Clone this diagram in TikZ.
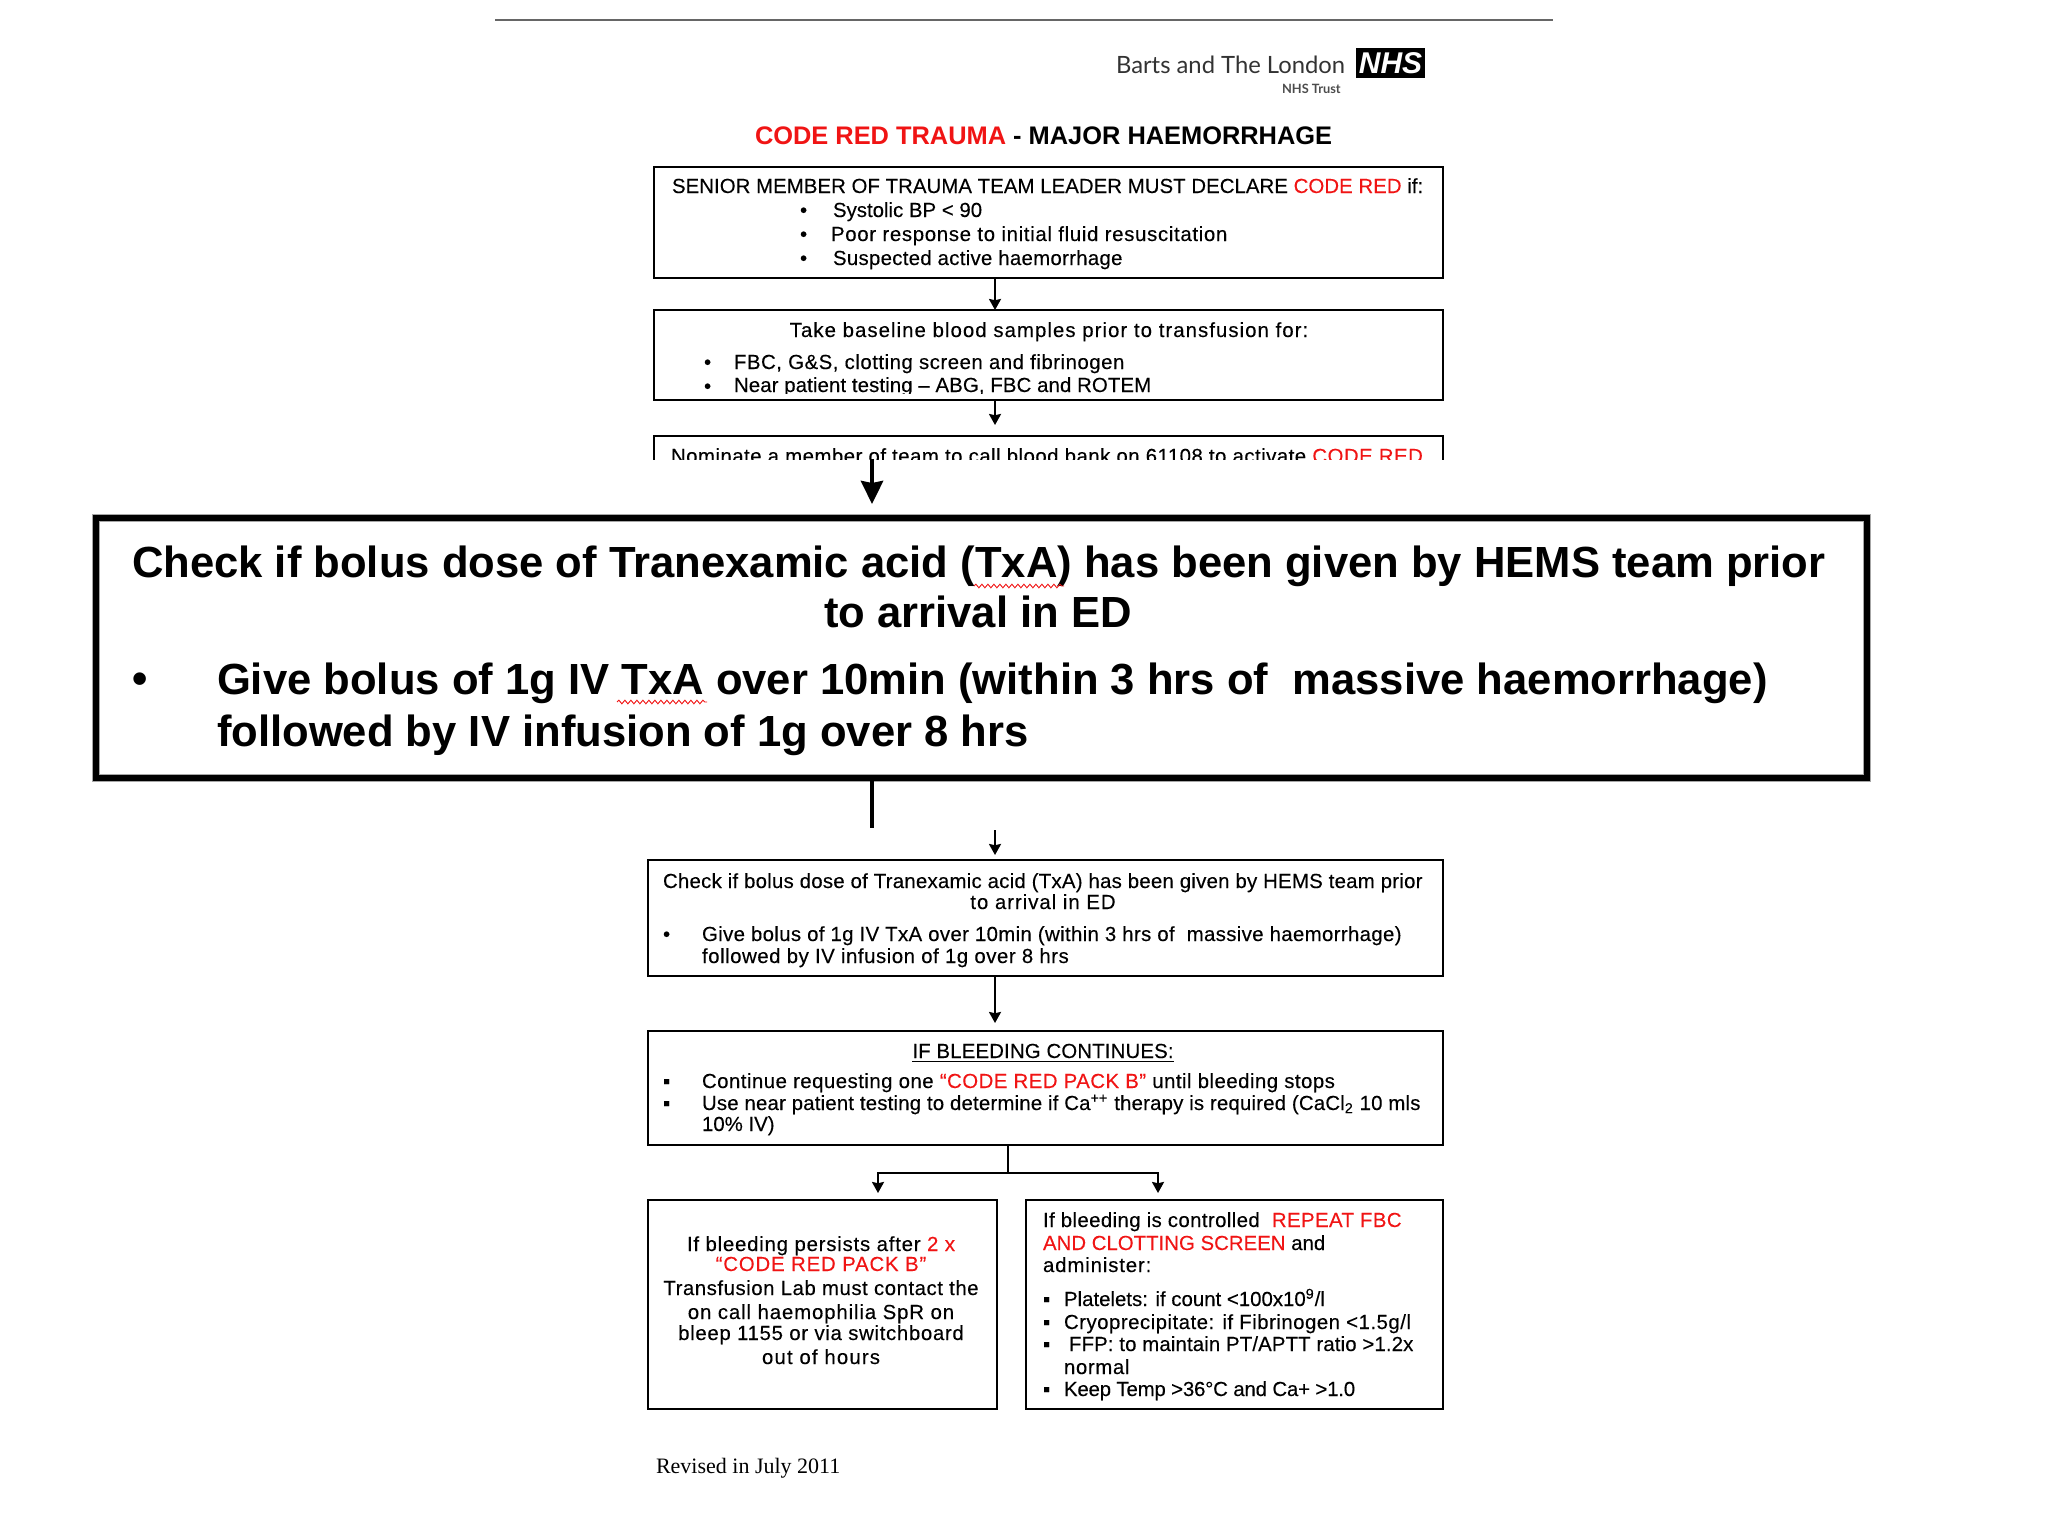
\documentclass[tikz,border=0pt]{standalone}
\usepackage{fontspec}
\setmainfont{Liberation Sans}
\newfontfamily\revfont{Liberation Serif}
\newfontfamily\logofont{Lato}
\usetikzlibrary{arrows.meta,decorations.pathmorphing}
\definecolor{codered}{RGB}{240,20,20}
\newcommand{\cred}[1]{\textcolor{codered}{#1}}
\begin{document}
\begin{tikzpicture}[x=0.5pt,y=-0.5pt,>={Stealth[length=5.5pt,width=6pt,inset=0.6pt]},text=black]
\tikzset{sp/.style={font=\fontsize{10.2}{12}\selectfont\addfontfeature{LetterSpace=#1,FakeBold=0.2}},sp/.default=0,
  lab/.style={anchor=base west,inner sep=0pt,outer sep=0pt},mid/.style={anchor=base,inner sep=0pt,outer sep=0pt},
  panel/.style={draw=black,line width=1pt,anchor=north west,inner sep=0pt,outer sep=0pt},
  bigtxt/.style={font=\fontsize{21.8}{24}\selectfont\bfseries},arr/.style={->,line width=1pt,draw=black},
  squig/.style={draw=codered,line width=0.45pt,decorate,decoration={snake,amplitude=0.9pt,segment length=3pt}}}
\useasboundingbox (0,0) rectangle (2048,1536);
% header
\draw[draw=black!60,line width=1pt] (495,20) coordinate (topa) -- (1553,20) coordinate (topb);
\node[lab,font=\logofont\fontsize{11.9}{14}\selectfont,text=black!80] (barts) at (1116,74) {Barts and The London};
\node[panel,fill=black,minimum width=33.5pt,minimum height=14pt,text=white,font=\fontsize{15}{15}\selectfont\bfseries\itshape] (nhs) at (1357,49) {NHS};
\node[lab,font=\logofont\fontsize{6.4}{7}\selectfont\bfseries,text=black!70] (trust) at (1282,94) {NHS Trust};
\node[lab,font=\fontsize{12.7}{15}\selectfont\bfseries] (title) at (755,144) {\cred{CODE RED TRAUMA} - MAJOR HAEMORRHAGE};
% senior member box
\node[panel,minimum width=394.5pt,minimum height=55.5pt] (senior) at (654,167) {};
\node[lab,sp=0.2] (s0) at (672,193) {SENIOR MEMBER OF TRAUMA TEAM LEADER MUST DECLARE \cred{CODE RED} if:};
\foreach \n/\yy/\xx/\ls/\tx in {s1/217/833/0/Systolic BP < 90,s2/241/831/3.3/Poor response to initial fluid resuscitation,s3/265/833/1.4/Suspected active haemorrhage}{
  \node[lab,sp] at (800,\yy) {•};
  \node[lab,sp=\ls] (\n) at (\xx,\yy) {\tx};}
% baseline samples box
\node[panel,minimum width=394.5pt,minimum height=45pt] (samples) at (654,310) {};
\node[mid,sp=5.1] (b0) at (1049,337) {Take baseline blood samples prior to transfusion for:};
\node[lab,sp] at (704,369) {•};
\node[lab,sp=2.5] (b1) at (734,369) {FBC, G\&S, clotting screen and fibrinogen};
\node[lab,sp] at (704,393) {•};
\begin{scope}
\clip (600,365) rectangle (1500,393.5);
\node[lab,sp=0.5] (b2) at (734,392) {Near patient testing – ABG, FBC and ROTEM};
\end{scope}
% nominate box, cut off by the enlarged panel
\begin{scope}
\clip (600,420) rectangle (1500,459);
\node[panel,minimum width=394.5pt,minimum height=40pt] (nominate) at (654,436) {};
\node[lab,sp=2.3] (n0) at (671,463) {Nominate a member of team to call blood bank on 61108 to activate \cred{CODE RED}};
\end{scope}
% enlarged panel
\node[panel,line width=2.6pt,preaction={draw=black!35,line width=4pt},minimum width=885.5pt,minimum height=130pt] (big) at (96,518) {};
\node[lab,bigtxt] (g0) at (132,577) {Check if bolus dose of Tranexamic acid (TxA) has been given by HEMS team prior};
\node[mid,bigtxt] (g1) at (978,627) {to arrival in ED};
\node[lab,bigtxt] (g2) at (132,693) {•};
\node[lab,bigtxt] (g3) at (217,694) {Give bolus of 1g IV TxA over 10min (within 3 hrs of \ massive haemorrhage)};
\node[lab,bigtxt] (g4) at (217,746) {followed by IV infusion of 1g over 8 hrs};
\draw[squig] (974,586) coordinate (sqa) -- (1064,586) coordinate (sqb);
\draw[squig] (617,702) coordinate (sqc) -- (707,702) coordinate (sqd);
% txa box
\node[panel,minimum width=397.5pt,minimum height=58pt] (txa) at (648,860) {};
\node[lab,sp=1.2] (t0) at (663,888) {Check if bolus dose of Tranexamic acid (TxA) has been given by HEMS team prior};
\node[mid,sp=4.7] (t1) at (1043,909) {to arrival in ED};
\node[lab,sp] at (663,941) {•};
\node[lab,sp=1.7] (t2) at (702,941) {Give bolus of 1g IV TxA over 10min (within 3 hrs of \ massive haemorrhage)};
\node[lab,sp=2.6] (t3) at (702,963) {followed by IV infusion of 1g over 8 hrs};
% continues box
\node[panel,minimum width=397.5pt,minimum height=57pt] (cont) at (648,1031) {};
\node[mid,sp=0.7] (c0) at (1043,1058) {\underline{IF BLEEDING CONTINUES:}};
\node[lab,sp] at (663,1088) {▪};
\node[lab,sp=2.3] (c1) at (702,1088) {Continue requesting one \cred{“CODE RED PACK B”} until bleeding stops};
\node[lab,sp] at (663,1110) {▪};
\node[lab,sp=0.9] (c2) at (702,1110) {Use near patient testing to determine if Ca\textsuperscript{++} therapy is required (CaCl\textsubscript{2} 10 mls};
\node[lab,sp] (c3) at (702,1131) {10\% IV)};
% outcome boxes
\node[panel,minimum width=174.5pt,minimum height=104.5pt] (persist) at (648,1200) {};
\foreach \n/\yy/\ls/\tx in {p0/1251/3.8/If bleeding persists after \cred{2 x},p1/1271/3.9/\cred{“CODE RED PACK B”},p2/1295/2.6/Transfusion Lab must contact the,p3/1319/4.2/on call haemophilia SpR on,p4/1340/3.3/bleep 1155 or via switchboard,p5/1364/5.6/out of hours}
  \node[mid,sp=\ls] (\n) at (821,\yy) {\tx};
\node[panel,minimum width=208.5pt,minimum height=104.5pt] (control) at (1026,1200) {};
\node[lab,sp=1.9] (r0) at (1043,1227) {If bleeding is controlled \ \cred{REPEAT FBC}};
\node[lab,sp] (r1) at (1043,1250) {\cred{AND CLOTTING SCREEN} and};
\node[lab,sp=4.2] (r2) at (1043,1272) {administer:};
\foreach \n/\yy/\xx/\ls/\tx in {r3/1306/1064/0/{Platelets: if count <100x10\textsuperscript{9}/l},r4/1329/1064/2.4/{Cryoprecipitate: if Fibrinogen <1.5g/l},r5/1351/1069/0.6/{FFP: to maintain PT/APTT ratio >1.2x},r7/1396/1064/-1/{Keep Temp >36°C and Ca+ >1.0}}{
  \node[lab,sp] at (1043,\yy) {▪};
  \node[lab,sp=\ls] (\n) at (\xx,\yy) {\tx};}
\node[lab,sp=3] (r6) at (1064,1374) {normal};
\node[lab,font=\revfont\fontsize{11}{13}\selectfont] (rev) at (656,1473) {Revised in July 2011};
% connectors
\coordinate (xa) at (995,0); \coordinate (xb) at (872,0);
\coordinate (xc) at (1008,0); \coordinate (xd) at (878,0); \coordinate (xe) at (1158,0);
\coordinate (fa) at (872,459); \coordinate (fb) at (872,828); \coordinate (fc) at (995,830);
\coordinate (fork) at (1008,1173);
\draw[arr] (senior.south -| xa) -- (samples.north -| xa);
\draw[arr,shorten >=5.5pt] (samples.south -| xa) -- (nominate.north -| xa);
\draw[->,line width=2.2pt,draw=black,>={Stealth[length=11.5pt,width=11pt,inset=1pt]},shorten >=7pt] (fa) -- (big.north -| fa);
\draw[line width=2.2pt] (big.south -| xb) -- (fb);
\draw[arr,shorten >=2.5pt] (fc) -- (txa.north -| fc);
\draw[arr,shorten >=4pt] (txa.south -| xa) -- (cont.north -| xa);
\draw[line width=1pt] (cont.south -| xc) -- (fork);
\draw[arr,shorten >=3.5pt] (fork) -| (persist.north -| xd);
\draw[arr,shorten >=3.5pt] (fork) -| (control.north -| xe);
\end{tikzpicture}
\end{document}
